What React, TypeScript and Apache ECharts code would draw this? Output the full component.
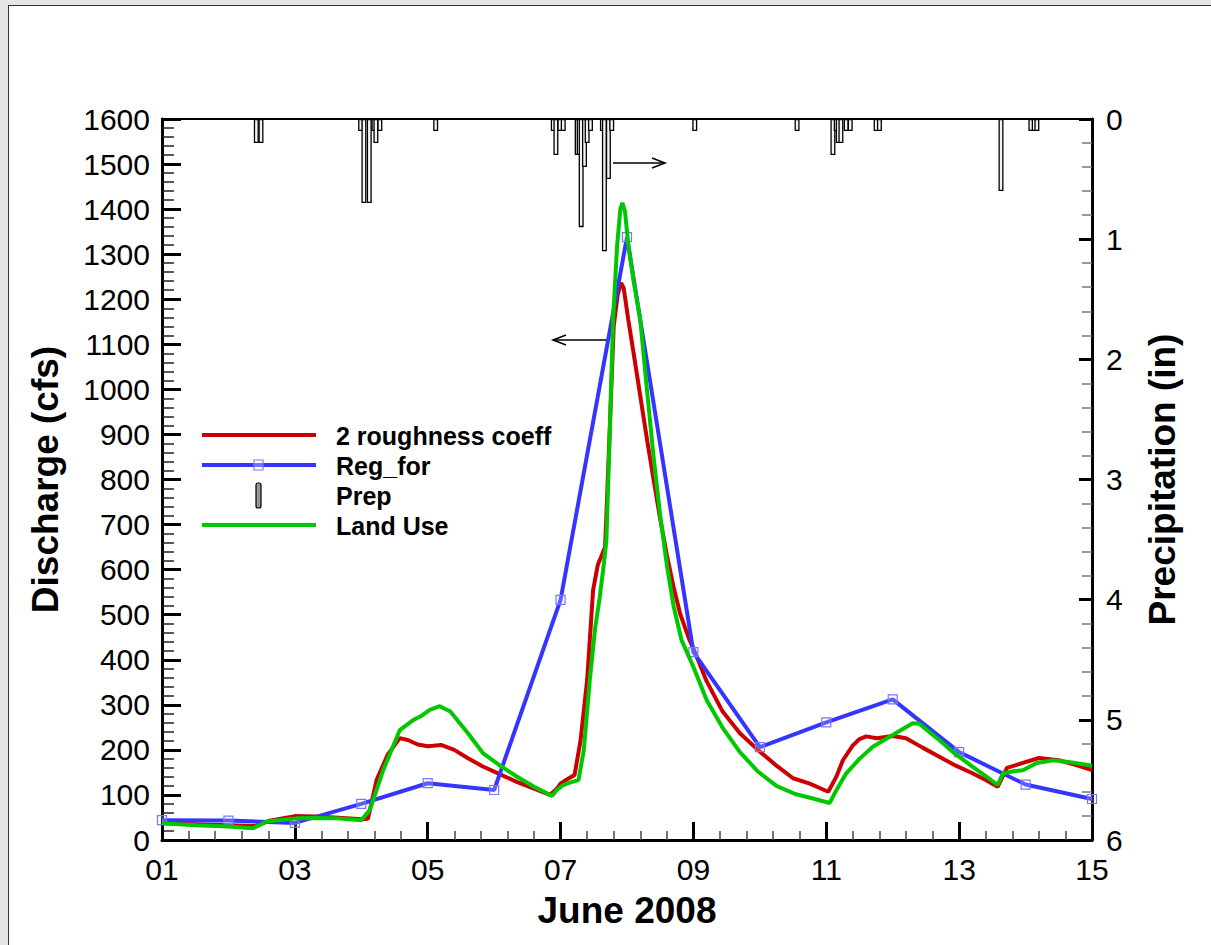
import React, { useEffect, useRef } from "react";
import * as echarts from "echarts";

const FONT = "'Liberation Sans', Arial, sans-serif";

// Day-of-June (decimal) vs discharge (cfs)
const roughnessData: [number, number][] = [
  [1.0, 37], [1.5, 35], [2.0, 33], [2.4, 31], [2.6, 42], [3.0, 53], [3.3, 52], [3.6, 50], [4.0, 46], [4.1, 47],
  [4.23, 133], [4.4, 190], [4.58, 226], [4.7, 222], [4.85, 212], [5.0, 208], [5.08, 209], [5.2, 211], [5.4, 200],
  [5.6, 182], [5.83, 163], [6.1, 145], [6.34, 129], [6.6, 114], [6.84, 100], [6.95, 115], [7.0, 125], [7.1, 135],
  [7.21, 144], [7.3, 220], [7.4, 355], [7.49, 555], [7.56, 610], [7.62, 632], [7.67, 650], [7.7, 760], [7.75, 950],
  [7.8, 1140], [7.86, 1210], [7.91, 1236], [7.95, 1225], [8.02, 1154], [8.1, 1080], [8.2, 985], [8.3, 890], [8.4, 800],
  [8.5, 712], [8.6, 632], [8.7, 562], [8.8, 502], [8.94, 444], [9.0, 425], [9.2, 352], [9.44, 285], [9.7, 237],
  [9.97, 200], [10.25, 165], [10.5, 137], [10.75, 125], [11.03, 107], [11.15, 140], [11.25, 177], [11.4, 210],
  [11.5, 224], [11.6, 230], [11.76, 226], [12.0, 231], [12.2, 226], [12.45, 205], [12.7, 185], [12.95, 165],
  [13.2, 148], [13.4, 133], [13.58, 118], [13.72, 160], [13.96, 171], [14.2, 182], [14.5, 177], [14.75, 167],
  [15.0, 155],
];

const regForData: [number, number][] = [
  [1, 44], [2, 43], [3, 38], [4, 80], [5, 126], [6, 111], [7, 533], [8, 1338], [9, 417], [10, 206], [11, 261],
  [12, 312], [13, 195], [14, 123], [15, 91],
];

const landUseData: [number, number][] = [
  [1.0, 37], [1.5, 33], [2.0, 30], [2.37, 26], [2.58, 41], [3.03, 48], [3.3, 49], [3.63, 48], [4.0, 44], [4.13, 67],
  [4.33, 155], [4.58, 244], [4.78, 266], [4.9, 275], [5.03, 289], [5.18, 297], [5.34, 285], [5.6, 238], [5.83, 193],
  [6.1, 164], [6.34, 141], [6.6, 118], [6.87, 98], [6.95, 112], [7.04, 122], [7.15, 128], [7.27, 133], [7.35, 200],
  [7.44, 355], [7.52, 470], [7.59, 539], [7.65, 610], [7.69, 666], [7.74, 900], [7.79, 1154], [7.85, 1317], [7.9, 1400],
  [7.93, 1414], [7.97, 1395], [8.02, 1320], [8.1, 1240], [8.2, 1154], [8.3, 1000], [8.4, 850], [8.5, 720], [8.6, 610],
  [8.7, 520], [8.82, 444], [9.0, 384], [9.2, 310], [9.44, 249], [9.7, 195], [9.97, 152], [10.25, 120], [10.53, 102],
  [10.8, 92], [11.05, 82], [11.15, 110], [11.3, 148], [11.5, 180], [11.7, 207], [12.0, 233], [12.3, 259], [12.4, 258],
  [12.55, 240], [12.7, 222], [12.95, 190], [13.2, 163], [13.4, 142], [13.58, 122], [13.66, 148], [13.8, 152],
  [13.96, 155], [14.17, 171], [14.42, 177], [14.7, 172], [14.97, 166], [15.0, 165],
];

// Day-of-June vs precipitation (in)
const precipData: [number, number][] = [
  [2.42, 0.2], [2.49, 0.2], [3.99, 0.1], [4.04, 0.7], [4.12, 0.7], [4.19, 0.1], [4.22, 0.2], [4.28, 0.1], [5.12, 0.1],
  [6.89, 0.1], [6.93, 0.3], [6.99, 0.1], [7.04, 0.1], [7.25, 0.3], [7.28, 0.3], [7.31, 0.9], [7.36, 0.4], [7.4, 0.2],
  [7.45, 0.1], [7.63, 0.1], [7.66, 1.1], [7.72, 0.5], [7.77, 0.1], [9.02, 0.1], [10.56, 0.1], [11.1, 0.3], [11.15, 0.1],
  [11.18, 0.2], [11.22, 0.2], [11.3, 0.1], [11.36, 0.1], [11.75, 0.1], [11.8, 0.1], [13.63, 0.6], [14.08, 0.1],
  [14.13, 0.1], [14.17, 0.1],
];

const legendNames = ["2 roughness coeff", "Reg_for", "Prep", "Land Use"];
const xTitle = "June 2008";
const yLeftTitle = "Discharge (cfs)";
const yRightTitle = "Precipitation (in)";

const RED = "#cc0000";
const BLUE = "#3535ff";
const GREEN = "#00c800";

function buildOption(): any {
  const lx1 = 202, lx2 = 316, tx = 336;
  const rows = [435, 465, 495, 525];
  const legendGraphics: any[] = [
    { type: "line", shape: { x1: lx1, y1: rows[0], x2: lx2, y2: rows[0] }, style: { stroke: RED, lineWidth: 4 } },
    { type: "line", shape: { x1: lx1, y1: rows[1], x2: lx2, y2: rows[1] }, style: { stroke: BLUE, lineWidth: 4 } },
    { type: "rect", shape: { x: 254, y: rows[1] - 5, width: 9, height: 10 }, style: { fill: "rgba(255,255,255,0.3)", stroke: "#7777ff", lineWidth: 1.2 } },
    { type: "rect", shape: { x: 256, y: rows[2] - 12, width: 5, height: 25, r: 2 }, style: { fill: "#999", stroke: "#000", lineWidth: 1.2 } },
    { type: "line", shape: { x1: lx1, y1: rows[3], x2: lx2, y2: rows[3] }, style: { stroke: GREEN, lineWidth: 4 } },
    ...legendNames.map((t, i) => ({
      type: "text",
      x: tx,
      y: rows[i] + 1,
      style: { text: t, fill: "#000", fontSize: 25, fontWeight: "bold", fontFamily: FONT, verticalAlign: "middle", align: "left" },
    })),
  ];
  const arrowGraphics: any[] = [
    { type: "line", shape: { x1: 613, y1: 163, x2: 665, y2: 163 }, style: { stroke: "#000", lineWidth: 1.5 } },
    { type: "polyline", shape: { points: [[652, 158], [665, 163], [652, 168]] }, style: { stroke: "#000", lineWidth: 1.5, fill: null } },
    { type: "line", shape: { x1: 608, y1: 340, x2: 553, y2: 340 }, style: { stroke: "#000", lineWidth: 1.5 } },
    { type: "polyline", shape: { points: [[566, 335], [553, 340], [566, 345]] }, style: { stroke: "#000", lineWidth: 1.5, fill: null } },
  ];

  const tickLabel = { color: "#000", fontSize: 30, fontFamily: FONT };
  const nameStyle = { color: "#000", fontSize: 37, fontWeight: "bold", fontFamily: FONT };

  return {
    animation: false,
    backgroundColor: "transparent",
    textStyle: { fontFamily: FONT },
    grid: { left: 162, top: 119, width: 930, height: 721, containLabel: false },
    xAxis: [
      {
        type: "value",
        position: "bottom",
        min: 1,
        max: 15,
        interval: 2,
        name: xTitle,
        nameLocation: "middle",
        nameGap: 52,
        nameTextStyle: nameStyle,
        axisLine: { show: true, onZero: false, lineStyle: { color: "#000", width: 3 } },
        axisTick: { show: true, inside: true, length: 18, lineStyle: { color: "#000", width: 3 } },
        minorTick: { show: true, splitNumber: 5, length: 9, lineStyle: { color: "#444", width: 1.5 } },
        axisLabel: { ...tickLabel, margin: 14, formatter: (v: number) => String(v).padStart(2, "0") },
        splitLine: { show: false },
      },
      {
        type: "value",
        position: "top",
        min: 1,
        max: 15,
        axisLine: { show: true, onZero: false, lineStyle: { color: "#000", width: 2 } },
        axisTick: { show: false },
        axisLabel: { show: false },
        splitLine: { show: false },
      },
    ],
    yAxis: [
      {
        type: "value",
        position: "left",
        min: 0,
        max: 1600,
        interval: 100,
        name: yLeftTitle,
        nameLocation: "middle",
        nameRotate: 90,
        nameGap: 98,
        nameTextStyle: nameStyle,
        axisLine: { show: true, onZero: false, lineStyle: { color: "#000", width: 3 } },
        axisTick: { show: true, inside: true, length: 19, lineStyle: { color: "#000", width: 3 } },
        minorTick: { show: true, splitNumber: 5, length: 12, lineStyle: { color: "#222", width: 1.5 } },
        axisLabel: { ...tickLabel, margin: 12, formatter: (v: number) => String(v) },
        splitLine: { show: false },
      },
      {
        type: "value",
        position: "right",
        min: 0,
        max: 6,
        interval: 1,
        inverse: true,
        name: yRightTitle,
        nameLocation: "middle",
        nameRotate: 90,
        nameGap: 52,
        nameTextStyle: nameStyle,
        axisLine: { show: true, onZero: false, lineStyle: { color: "#000", width: 3 } },
        axisTick: { show: true, inside: true, length: 13, lineStyle: { color: "#000", width: 3 } },
        minorTick: { show: true, splitNumber: 5, length: 10, lineStyle: { color: "#777", width: 1.5 } },
        axisLabel: { ...tickLabel, margin: 14, formatter: (v: number) => String(v) },
        splitLine: { show: false },
      },
    ],
    series: [
      {
        name: "Prep",
        type: "bar",
        xAxisIndex: 0,
        yAxisIndex: 1,
        data: precipData,
        barWidth: 5,
        itemStyle: { color: "#f4f4f4", borderColor: "#000", borderWidth: 1.3 },
        z: 1,
      },
      {
        name: legendNames[0],
        type: "line",
        data: roughnessData,
        showSymbol: false,
        symbol: "none",
        lineStyle: { color: RED, width: 4 },
        z: 2,
      },
      {
        name: legendNames[1],
        type: "line",
        data: regForData,
        symbol: "rect",
        symbolSize: [9, 9],
        showAllSymbol: true,
        itemStyle: { color: "rgba(255,255,255,0.2)", borderColor: "#7777ff", borderWidth: 1.2 },
        lineStyle: { color: BLUE, width: 4 },
        z: 3,
      },
      {
        name: legendNames[3],
        type: "line",
        data: landUseData,
        showSymbol: false,
        symbol: "none",
        lineStyle: { color: GREEN, width: 4 },
        z: 4,
      },
    ],
    graphic: [...legendGraphics, ...arrowGraphics],
  };
}

export default function App() {
  const ref = useRef<HTMLDivElement>(null);
  useEffect(() => {
    if (!ref.current) return;
    const chart = echarts.init(ref.current, undefined, { renderer: "svg", width: 1211, height: 945 });
    chart.setOption(buildOption());
    return () => chart.dispose();
  }, []);
  return (
    <div style={{ position: "fixed", left: 0, top: 0, width: 1211, height: 945, background: "#e6e6e6", overflow: "hidden" }}>
      <div
        style={{
          position: "absolute",
          left: 8,
          top: 5,
          width: 1400,
          height: 1200,
          background: "#fff",
          borderLeft: "1.5px solid #333",
          borderTop: "1.5px solid #333",
        }}
      />
      <div ref={ref} style={{ position: "absolute", left: 0, top: 0, width: 1211, height: 945 }} />
    </div>
  );
}
